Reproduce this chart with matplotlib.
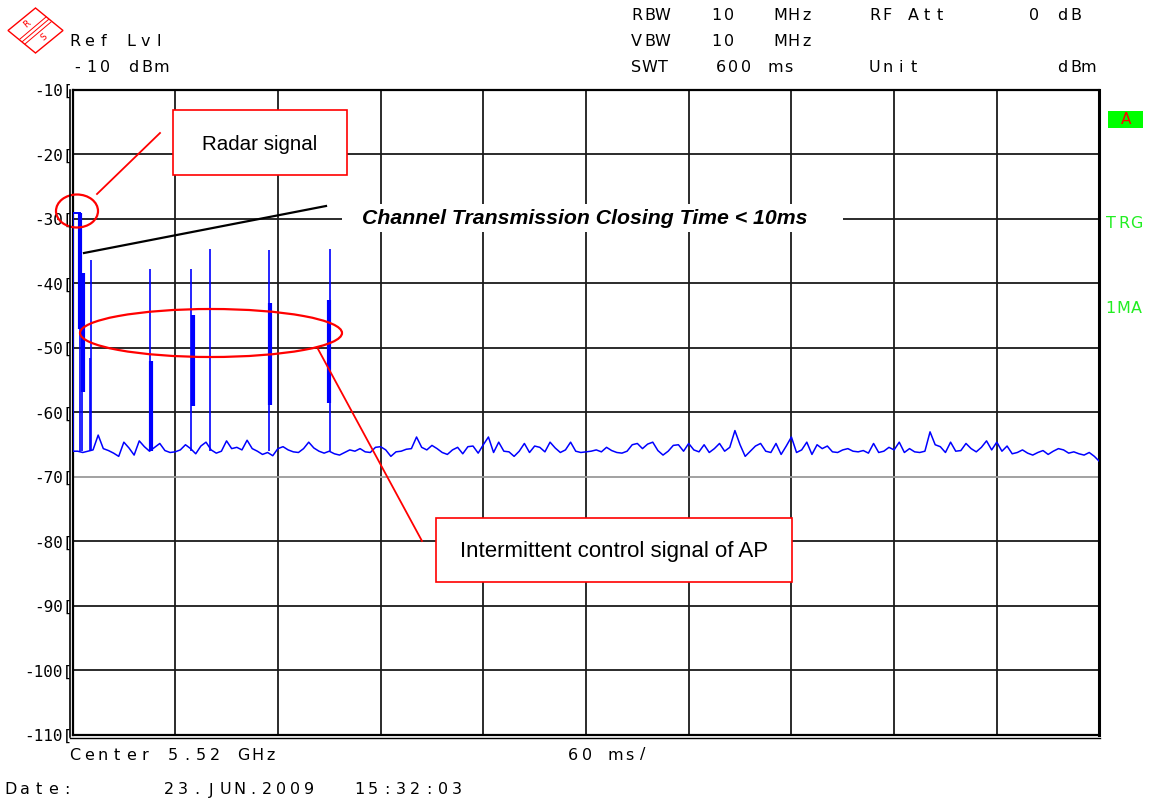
import matplotlib
matplotlib.use("Agg")
import matplotlib.pyplot as plt
import numpy as np
from matplotlib.patches import Ellipse, Rectangle, Polygon
from matplotlib.lines import Line2D

# ---------------- data ----------------
sweep_ms = 600
noise_t = np.arange(0, 601, 3)  # sweep sample times (ms)
noise_db = [
    # 0..75
    -66.0, -66.0, -66.2, -66.0, -65.8, -63.5, -65.6, -65.9, -66.3, -66.8, -64.6, -65.5, -66.6,
    -64.4, -65.3, -66.0, -65.4, -64.8, -65.9, -66.2, -66.1, -65.8, -65.0, -65.6, -66.4, -65.2,
    # 78..150
    -64.6, -65.8, -66.3, -66.0, -64.4, -65.6, -65.4, -65.8, -64.3, -65.6, -66.0, -66.5, -66.2,
    -66.7, -65.6, -65.3, -65.8, -66.1, -66.2, -65.6, -64.6, -65.5, -66.0, -66.3, -66.0,
    # 153..225
    -66.4, -66.6, -66.2, -65.8, -66.0, -65.6, -66.1, -66.2, -65.4, -65.3, -65.8, -66.8, -66.1,
    -66.0, -65.7, -65.6, -63.8, -65.4, -65.8, -65.1, -65.6, -66.2, -66.5, -65.8, -65.4,
    # 228..300
    -66.4, -65.3, -65.2, -66.3, -65.0, -63.8, -66.2, -64.6, -66.0, -66.1, -66.8, -66.0, -64.8,
    -66.2, -65.2, -65.4, -66.1, -64.6, -65.5, -66.2, -65.8, -64.6, -66.0, -66.2, -66.1,
    # 303..378
    -66.0, -65.8, -66.1, -65.4, -65.9, -66.2, -66.3, -66.0, -65.0, -64.8, -65.6, -64.9, -64.6,
    -65.9, -66.6, -66.0, -65.1, -65.0, -66.0, -64.8, -65.8, -66.1, -65.0, -66.2, -65.6, -64.8,
    # 381..453
    -66.0, -65.4, -62.8, -65.0, -66.8, -66.0, -65.2, -64.8, -66.0, -66.2, -64.8, -66.5, -65.2,
    -63.8, -66.2, -65.8, -64.6, -66.5, -65.0, -65.6, -65.2, -66.1, -66.2, -65.8, -65.6,
    # 456..528
    -66.0, -66.1, -65.9, -66.3, -64.8, -66.2, -66.0, -65.4, -65.8, -64.6, -66.2, -65.6, -66.1,
    -66.2, -66.0, -63.0, -65.0, -65.3, -66.2, -64.6, -66.0, -65.9, -64.8, -65.6, -66.1,
    # 531..600
    -65.4, -64.4, -65.8, -64.6, -66.0, -65.2, -66.4, -66.2, -65.8, -66.3, -66.6, -66.2,
    -65.9, -66.5, -66.0, -65.6, -65.8, -66.3, -66.1, -66.4, -66.6, -66.2, -66.8, -67.6,
]

# thin spikes: time (ms) and peak level (dBm)
spike_t = [0.4, 4.4, 5.7, 10.1, 11.1, 45.5, 69.5, 80.1, 115.0, 150.2]
spike_top = [-29.0, -29.0, -38.4, -51.5, -36.4, -37.8, -37.8, -34.7, -34.8, -34.7]
spike_base = -66.0

# dense (thick) parts of the bursts
burst_t = [4.3, 5.9, 46.0, 70.3, 115.6, 149.6]
burst_hi = [-29.0, -38.4, -52.0, -44.9, -43.0, -42.6]
burst_lo = [-47.0, -56.8, -66.0, -59.0, -58.8, -58.5]

# radar pulse flat top
radar_level = -29.0
radar_start, radar_end = 0.4, 5.0

yticks = [-10, -20, -30, -40, -50, -60, -70, -80, -90, -100, -110]
ytick_labels = ["-10", "-20", "-30", "-40", "-50", "-60", "-70", "-80", "-90", "-100", "-110"]
xticks = [0, 60, 120, 180, 240, 300, 360, 420, 480, 540, 600]

# ---------------- figure ----------------
W, H = 1157, 801
fig = plt.figure(figsize=(W / 100, H / 100), dpi=100)
fig.patch.set_facecolor("white")


def fx(x):
    return x / W


def fy(y):
    return 1 - y / H


L, R, T, B = 72.5, 1099.5, 90, 735
ax = fig.add_axes([fx(L), fy(B), (R - L) / W, (B - T) / H])
ax.set_xlim(0, sweep_ms)
ax.set_ylim(-110, -10)

ax.set_xticks(xticks)
ax.set_xticklabels([])
ax.set_yticks(yticks)
ax.set_yticklabels([s + "[" for s in ytick_labels], family="DejaVu Sans Mono", fontsize=11.5)
ax.tick_params(axis="both", length=0, pad=0)
for t in xticks[1:-1]:
    ax.axvline(t, color="#1a1a1a", lw=1.3, zorder=1)
for yv in yticks[1:-1]:
    c = "#9a9a9a" if yv == -70 else "#1a1a1a"
    ax.axhline(yv, color=c, lw=1.3, zorder=1)
for s in ax.spines.values():
    s.set_linewidth(1.6)
    s.set_color("black")
ax.spines["right"].set_linewidth(2.2)

# trace
ax.plot(noise_t, noise_db, color="#0000ff", lw=1.1, zorder=3)
ax.vlines(spike_t, spike_base, spike_top, color="#0000ff", lw=1.2, zorder=3)
ax.vlines(burst_t, burst_lo, burst_hi, color="#0000ff", lw=3.0, zorder=3)
ax.hlines(radar_level, radar_start, radar_end, color="#0000ff", lw=1.4, zorder=3)

# second frame line (double border)
fig.add_artist(Line2D([fx(69.5), fx(69.5)], [fy(T), fy(B + 2)], color="black", lw=1.2))
fig.add_artist(Line2D([fx(69.5), fx(R)], [fy(B + 2.5), fy(B + 2.5)], color="black", lw=1.0))


def mono(x, y, s, pitch=14.0, size=11.5, color="black"):
    for i, ch in enumerate(s):
        if ch != " ":
            fig.text(fx(x + i * pitch + pitch / 2 - 2), fy(y), ch, ha="center", va="center",
                     family="DejaVu Sans", fontsize=size, color=color)


# header
mono(70, 42, "Ref Lvl")
mono(72, 67, "-10 dBm")
mono(632, 16, "RBW", pitch=13)
mono(712, 16, "10", pitch=13)
mono(776, 16, "MHz", pitch=13)
mono(870, 16, "RF Att", pitch=13)
mono(1030, 16, "0", pitch=13)
mono(1058, 16, "dB", pitch=13)
mono(632, 42, "VBW", pitch=13)
mono(712, 42, "10", pitch=13)
mono(776, 42, "MHz", pitch=13)
mono(632, 67, "SWT", pitch=13)
mono(716, 67, "600", pitch=13)
mono(771, 67, "ms", pitch=13)
mono(870, 67, "Unit", pitch=13)
mono(1058, 67, "dBm", pitch=13)
# footer
mono(70, 755, "Center 5.52 GHz")
mono(568, 755, "60 ms/")
mono(6, 790, "Date:")
mono(164, 790, "23.JUN.2009")
mono(354, 790, "15:32:03")

# right side indicators
fig.add_artist(Rectangle((fx(1108), fy(128)), (1143 - 1108) / W, (128 - 111) / H,
                         facecolor="#00ff00", edgecolor="none"))
fig.text(fx(1126), fy(119.5), "A", color="red", ha="center", va="center",
         family="DejaVu Sans", fontsize=11)
mono(1106, 224, "TRG", pitch=13, color="#22ee22")
mono(1106, 308, "1MA", pitch=13, color="#22ee22")

# R&S logo
cx, cy, rx, ry = 35.5, 30.5, 27.5, 22.5
fig.add_artist(Polygon([(fx(cx - rx), fy(cy)), (fx(cx), fy(cy - ry)), (fx(cx + rx), fy(cy)), (fx(cx), fy(cy + ry))],
                       closed=True, fill=False, edgecolor="red", lw=1.0))
for off in (-2.5, 0, 2.5):
    fig.add_artist(Line2D([fx(cx - 13 + off), fx(cx + 13 + off)], [fy(cy + 11 + off), fy(cy - 11 + off)],
                          color="red", lw=0.7))
fig.text(fx(cx - 9), fy(cy - 6), "R", color="red", fontsize=6.5, ha="center", va="center", rotation=40)
fig.text(fx(cx + 8), fy(cy + 7), "S", color="red", fontsize=6.5, ha="center", va="center", rotation=40)

# ---------------- annotations ----------------
red = "#ff0000"
# Radar signal box
fig.add_artist(Rectangle((fx(173), fy(175)), (347 - 173) / W, (175 - 110) / H,
                         facecolor="white", edgecolor=red, lw=1.2, zorder=5))
fig.text(fx(260), fy(145), "Radar signal", ha="center", va="center", family="Liberation Sans",
         fontsize=14.8, zorder=6)
fig.add_artist(Line2D([fx(160), fx(97)], [fy(133), fy(194)], color=red, lw=1.3))
fig.add_artist(Ellipse((fx(77), fy(211)), 42 / W, 33 / H, fill=False, edgecolor=red, lw=1.6))

# closing time arrow line + label
fig.add_artist(Line2D([fx(84), fx(326)], [fy(253), fy(206)], color="black", lw=1.6, zorder=4))
fig.add_artist(Rectangle((fx(342), fy(232)), (843 - 342) / W, (232 - 204) / H,
                         facecolor="white", edgecolor="none", zorder=4))
fig.text(fx(585), fy(218), "Channel Transmission Closing Time < 10ms", ha="center", va="center",
         family="Liberation Sans", fontsize=15.3, weight="bold", style="italic", zorder=6)

# control signal ellipse, line and box
fig.add_artist(Ellipse((fx(211), fy(333)), 262 / W, 48 / H, fill=False, edgecolor=red, lw=1.6))
fig.add_artist(Line2D([fx(318), fx(422)], [fy(349), fy(541)], color=red, lw=1.3))
fig.add_artist(Rectangle((fx(436), fy(582)), (792 - 436) / W, (582 - 518) / H,
                         facecolor="white", edgecolor=red, lw=1.2, zorder=5))
fig.text(fx(614), fy(552), "Intermittent control signal of AP", ha="center", va="center",
         family="Liberation Sans", fontsize=16, zorder=6)

fig.savefig("out.png", dpi=100, facecolor="white")
